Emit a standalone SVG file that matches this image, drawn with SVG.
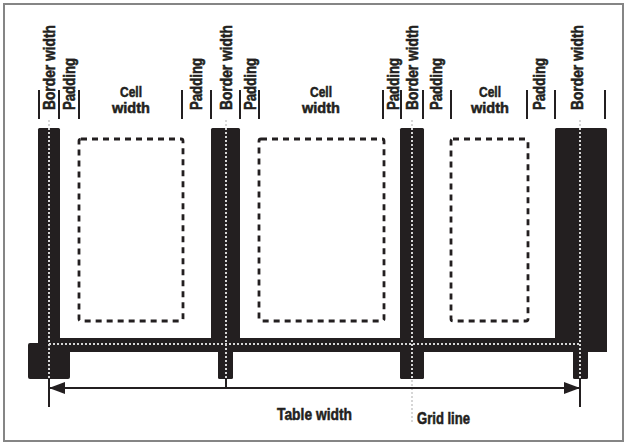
<svg xmlns="http://www.w3.org/2000/svg" width="627" height="446" viewBox="0 0 627 446">
<style>
.t{font-family:"Liberation Sans",Arial,sans-serif;font-weight:bold;fill:#231f20;stroke:#231f20;stroke-width:0.55}
.v{font-size:16.5px}
.c{font-size:15.5px}
.blk{fill:#231f20}
.bar{stroke:#231f20;stroke-width:2;fill:none}
.dot{stroke:#d6d6d6;stroke-width:2;stroke-dasharray:2 2;fill:none}
.cell{stroke:#231f20;stroke-width:2.8;stroke-dasharray:6 5;fill:none}
</style>
<defs>
<marker id="ah" viewBox="0 0 16 12" refX="16" refY="6" markerWidth="16" markerHeight="12" markerUnits="userSpaceOnUse" orient="auto-start-reverse">
<path d="M0,0 L16,6 L0,12 Z" fill="#231f20"/>
</marker>
</defs>
<rect x="4" y="4" width="619" height="437" fill="#fff" stroke="#858585" stroke-width="2"/>
<g id="table">
<rect class="blk" x="38" y="128" width="22" height="224" rx="1.5"/>
<rect class="blk" x="28" y="343" width="42" height="36" rx="2"/>
<rect class="blk" x="38" y="338" width="569" height="14"/>
<rect class="blk" x="211" y="128" width="29" height="224" rx="1.5"/>
<rect class="blk" x="218" y="345" width="15" height="34" rx="1.5"/>
<rect class="blk" x="400" y="128" width="24" height="251" rx="1.5"/>
<rect class="blk" x="555" y="128" width="52" height="224" rx="1.5"/>
<rect class="blk" x="573" y="345" width="15" height="34" rx="1.5"/>
</g>
<g id="cells">
<rect class="cell" x="79" y="139" width="104" height="182" rx="2"/>
<rect class="cell" x="259" y="139" width="125" height="182" rx="2"/>
<rect class="cell" x="451" y="139" width="77" height="182" rx="2"/>
</g>
<g id="gridlines">
<line class="dot" x1="49" y1="120" x2="49" y2="379"/>
<line class="dot" x1="226" y1="120" x2="226" y2="379"/>
<line class="dot" x1="412" y1="120" x2="412" y2="422"/>
<line class="dot" x1="580" y1="120" x2="580" y2="379"/>
<line class="dot" x1="49" y1="344" x2="580" y2="344"/>
</g>
<g id="connectors">
<line class="bar" x1="49" y1="388" x2="580" y2="388" marker-start="url(#ah)" marker-end="url(#ah)"/>
<line class="bar" x1="49" y1="379" x2="49" y2="407"/>
<line class="bar" x1="580" y1="379" x2="580" y2="407"/>
<line class="bar" x1="226" y1="379" x2="226" y2="388"/>
</g>
<g id="markers">
<path class="bar" d="M39,90V119M59,90V119M79,90V119M182,90V119M211,90V119M240,90V119M259,90V119M383,90V119M401,90V119M423,90V119M451,90V119M527,90V119M555,90V119M605,90V119"/>
</g>
<g id="labels">
<text class="t v" transform="translate(55,110) rotate(-90)" textLength="85" lengthAdjust="spacingAndGlyphs">Border width</text>
<text class="t v" transform="translate(75,110) rotate(-90)" textLength="52" lengthAdjust="spacingAndGlyphs">Padding</text>
<text class="t v" transform="translate(201.7,110) rotate(-90)" textLength="52" lengthAdjust="spacingAndGlyphs">Padding</text>
<text class="t v" transform="translate(231.7,110) rotate(-90)" textLength="85" lengthAdjust="spacingAndGlyphs">Border width</text>
<text class="t v" transform="translate(256,110) rotate(-90)" textLength="52" lengthAdjust="spacingAndGlyphs">Padding</text>
<text class="t v" transform="translate(399,110) rotate(-90)" textLength="52" lengthAdjust="spacingAndGlyphs">Padding</text>
<text class="t v" transform="translate(417.7,110) rotate(-90)" textLength="85" lengthAdjust="spacingAndGlyphs">Border width</text>
<text class="t v" transform="translate(441.7,110) rotate(-90)" textLength="52" lengthAdjust="spacingAndGlyphs">Padding</text>
<text class="t v" transform="translate(544.7,110) rotate(-90)" textLength="52" lengthAdjust="spacingAndGlyphs">Padding</text>
<text class="t v" transform="translate(583.4,110) rotate(-90)" textLength="85" lengthAdjust="spacingAndGlyphs">Border width</text>
<text class="t c" text-anchor="middle"><tspan x="131" y="96.5" textLength="22" lengthAdjust="spacingAndGlyphs">Cell</tspan><tspan x="131" y="113" textLength="38" lengthAdjust="spacingAndGlyphs">width</tspan></text>
<text class="t c" text-anchor="middle"><tspan x="321" y="96.5" textLength="22" lengthAdjust="spacingAndGlyphs">Cell</tspan><tspan x="321" y="113" textLength="38" lengthAdjust="spacingAndGlyphs">width</tspan></text>
<text class="t c" text-anchor="middle"><tspan x="490" y="96.5" textLength="22" lengthAdjust="spacingAndGlyphs">Cell</tspan><tspan x="490" y="113" textLength="38" lengthAdjust="spacingAndGlyphs">width</tspan></text>
<text class="t" x="277" y="420" font-size="17" textLength="75" lengthAdjust="spacingAndGlyphs">Table width</text>
<text class="t" x="417" y="424" font-size="16.5" textLength="53" lengthAdjust="spacingAndGlyphs">Grid line</text>
</g>
</svg>
